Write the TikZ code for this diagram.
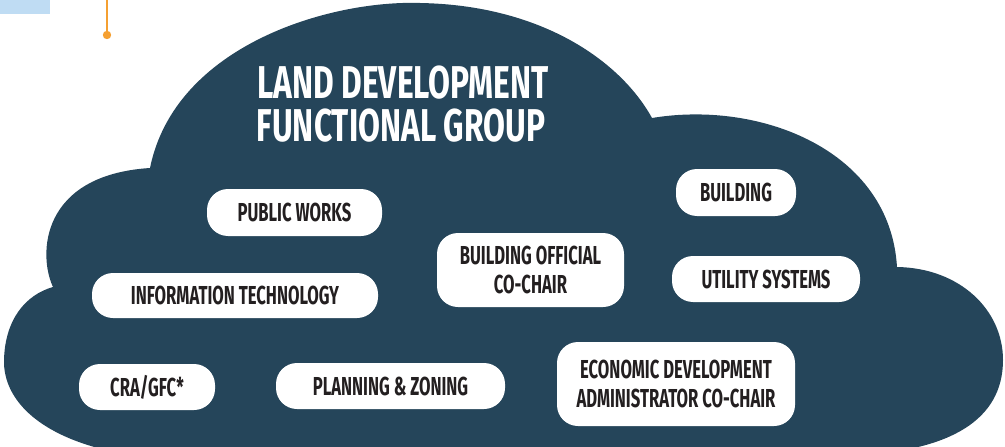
\documentclass[tikz,border=0pt]{standalone}
\usepackage{fontspec}
\newfontfamily\cndfont[FakeStretch=0.64]{Fira Sans}
\newfontfamily\ttlfont[FakeStretch=0.69]{Fira Sans}
\definecolor{navy}{HTML}{25455A}
\definecolor{ink}{HTML}{231F20}
\definecolor{orangeline}{HTML}{F5A031}
\definecolor{paleblue}{HTML}{BFDCF3}
\tikzset{
  pill/.style={fill=white, rounded corners=21pt, inner sep=0pt, text=ink,
    font=\cndfont\bfseries\fontsize{26}{29}\selectfont, align=center},
  titletext/.style={text=white, font=\ttlfont\bfseries\fontsize{46}{43}\selectfont, inner sep=0pt, anchor=base}
}
\begin{document}
\begin{tikzpicture}[x=1pt,y=-1pt]
\useasboundingbox (0,0) rectangle (1005,447);
\clip (0,0) rectangle (1005,447);
% top-left fragments
\fill[paleblue] (0,0) rectangle (50,14);
\coordinate (otop) at (107,-2);
\coordinate (odot) at (107,35);
\draw[orangeline, line width=2.5pt] (otop) -- (odot);
\fill[orangeline] (odot) circle (4.2pt);
% cloud
\fill[navy] (53,287)
  .. controls (38,255) and (40,175) .. (150,168)
  .. controls (175,45) and (330,0) .. (420,3)
  .. controls (540,5) and (620,60) .. (652,118)
  .. controls (760,100) and (890,150) .. (897,267)
  .. controls (960,268) and (1003,310) .. (1003,360)
  .. controls (1003,420) and (950,450) .. (860,455)
  -- (130,455)
  .. controls (40,440) and (3,400) .. (4,360)
  .. controls (5,320) and (25,295) .. (53,287) -- cycle;
% title
\node[titletext] (title1) at (403,98.5) {LAND DEVELOPMENT};
\node[titletext] (title2) at (401,141.5) {FUNCTIONAL GROUP};
% boxes
\node[pill, minimum width=175pt, minimum height=47pt] (pw) at (294.5,212.5) {PUBLIC WORKS};
\node[pill, minimum width=120pt, minimum height=47pt] (bld) at (736,192.5) {BUILDING};
\node[pill, minimum width=188pt, minimum height=46pt] (util) at (766,279) {UTILITY SYSTEMS};
\node[pill, minimum width=187pt, minimum height=74pt] (bo) at (530.5,270) {BUILDING OFFICIAL\\CO-CHAIR};
\node[pill, minimum width=286pt, minimum height=45pt] (it) at (235,295.5) {INFORMATION TECHNOLOGY};
\node[pill, minimum width=136pt, minimum height=46pt] (cra) at (147,387) {CRA/GFC*};
\node[pill, minimum width=229pt, minimum height=46pt] (pz) at (390.5,386) {PLANNING \& ZONING};
\node[pill, minimum width=238pt, minimum height=84pt] (econ) at (676,384) {ECONOMIC DEVELOPMENT\\ADMINISTRATOR CO-CHAIR};
\end{tikzpicture}
\end{document}
